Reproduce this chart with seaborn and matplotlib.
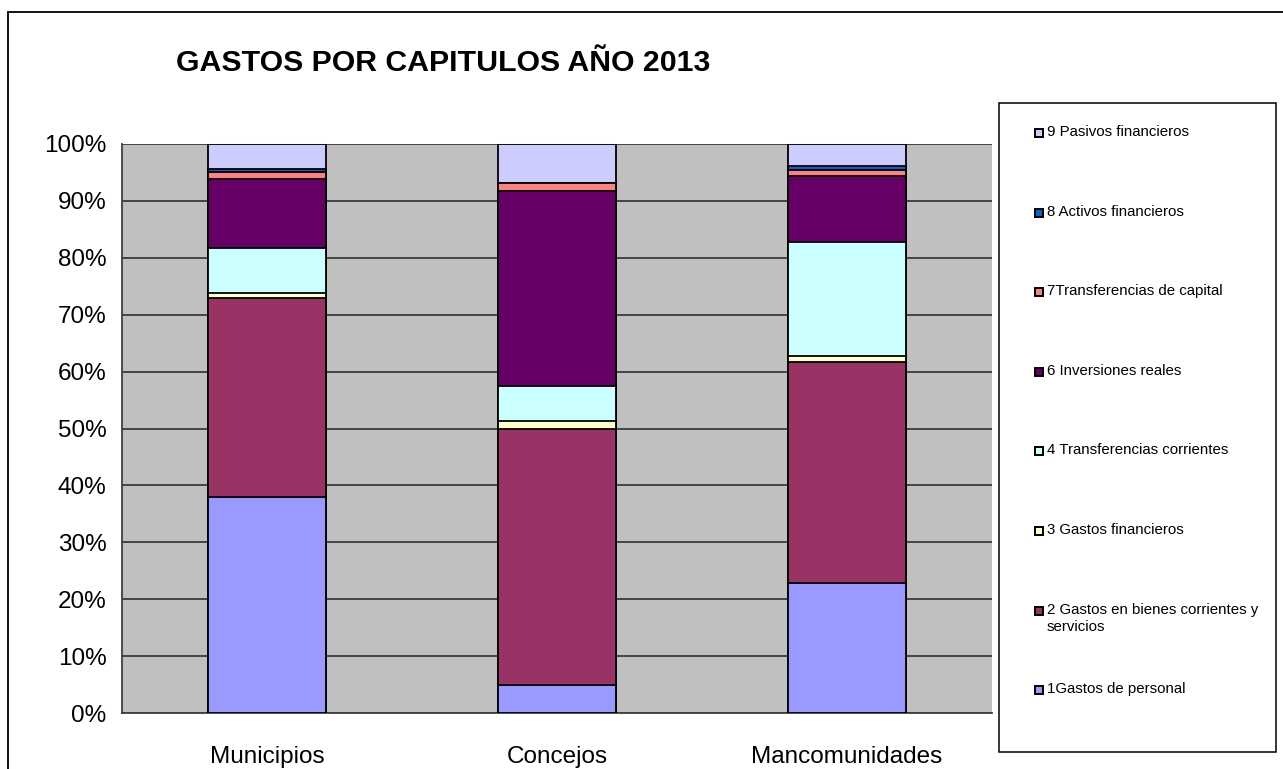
import numpy as np
import pandas as pd
import matplotlib.pyplot as plt
import seaborn as sns
from matplotlib.patches import Rectangle

# Porcentaje del gasto por capitulo
entidades = ['Municipios', 'Concejos', 'Mancomunidades']
capitulos = ['1Gastos de personal',
             '2 Gastos en bienes corrientes y\nservicios',
             '3 Gastos financieros',
             '4 Transferencias corrientes',
             '6 Inversiones reales',
             '7Transferencias de capital',
             '8 Activos financieros',
             '9 Pasivos financieros']
cap1 = [38.0, 5.0, 22.8]
cap2 = [34.9, 45.0, 38.9]
cap3 = [1.0, 1.3, 1.1]
cap4 = [7.8, 6.1, 20.0]
cap6 = [12.1, 34.3, 11.5]
cap7 = [1.35, 1.5, 1.1]
cap8 = [0.5, 0.0, 0.7]
cap9 = [4.35, 6.8, 3.9]
colores = ['#9999FF', '#993366', '#FFFFCC', '#CCFFFF',
           '#660066', '#FF8080', '#0066CC', '#CCCCFF']

df = pd.DataFrame([cap1, cap2, cap3, cap4, cap6, cap7, cap8, cap9],
                  index=capitulos, columns=entidades)
acum = df.cumsum()

sns.set_style('white')
plt.rcParams['font.family'] = ['Liberation Sans', 'DejaVu Sans']
plt.rcParams['text.color'] = 'black'
plt.rcParams['xtick.color'] = 'black'
plt.rcParams['ytick.color'] = 'black'

W, H = 1283, 769
fig = plt.figure(figsize=(W / 100, H / 100), dpi=100)

# marco exterior del grafico
fig.patches.append(Rectangle((8 / W, -0.1), 1.2, 1 - 12 / H + 0.1, transform=fig.transFigure,
                             fill=False, edgecolor='black', linewidth=1.3))

ax = fig.add_axes([122 / W, 1 - 713 / H, (992 - 122) / W, (713 - 144) / H])
ax.set_facecolor('#C0C0C0')

# barras apiladas: se dibuja el acumulado de arriba hacia abajo
for nombre, color in reversed(list(zip(capitulos, colores))):
    sns.barplot(x=entidades, y=acum.loc[nombre].values, color=color, saturation=1,
                edgecolor='black', linewidth=1.3, width=0.405, ax=ax, zorder=3)

ax.set_ylim(0, 100)
ax.set_xlim(-0.5, 2.5)
ax.set_yticks(np.arange(0, 101, 10))
ax.set_yticklabels([f'{v}%' for v in range(0, 101, 10)])
ax.yaxis.grid(True, color='#3a3a3a', linewidth=1.3, zorder=0)
ax.set_axisbelow(True)
ax.set_xticks([0, 1, 2])
ax.set_xticklabels(entidades)
ax.set_xticks([-0.5, 0.5, 1.5, 2.5], minor=True)
ax.tick_params(axis='x', which='major', length=0, pad=24, labelsize=17.5, labelcolor='black')
ax.tick_params(axis='x', which='minor', length=5, width=1.2, color='#404040', direction='out')
ax.tick_params(axis='y', length=5, width=1.2, color='#404040', direction='out', pad=6,
               labelsize=17.5, labelcolor='black')
ax.set_xlabel('')
ax.set_ylabel('')
for lado in ['top', 'right']:
    ax.spines[lado].set_visible(False)
for lado in ['left', 'bottom']:
    ax.spines[lado].set_color('#404040')
    ax.spines[lado].set_linewidth(1.3)

fig.text(176 / W, 1 - 63 / H, 'GASTOS POR CAPITULOS AÑO 2013', fontsize=21.8,
         fontweight='bold', ha='left', va='center', color='black')

# leyenda
fig.patches.append(Rectangle((999 / W, 1 - 752 / H), (1276 - 999) / W, (752 - 103) / H,
                             transform=fig.transFigure, fill=False,
                             edgecolor='black', linewidth=1.1))
for i, (nombre, color) in enumerate(reversed(list(zip(capitulos, colores)))):
    yc = 133 + i * 79.6
    fig.patches.append(Rectangle((1035 / W, 1 - (yc + 4) / H), 8 / W, 8 / H,
                                 transform=fig.transFigure, facecolor=color,
                                 edgecolor='black', linewidth=1.4))
    fig.text(1047 / W, 1 - (yc - 8) / H, nombre, fontsize=10.8, ha='left', va='top',
             linespacing=1.35, color='black')

fig.savefig('out.png', dpi=100)
